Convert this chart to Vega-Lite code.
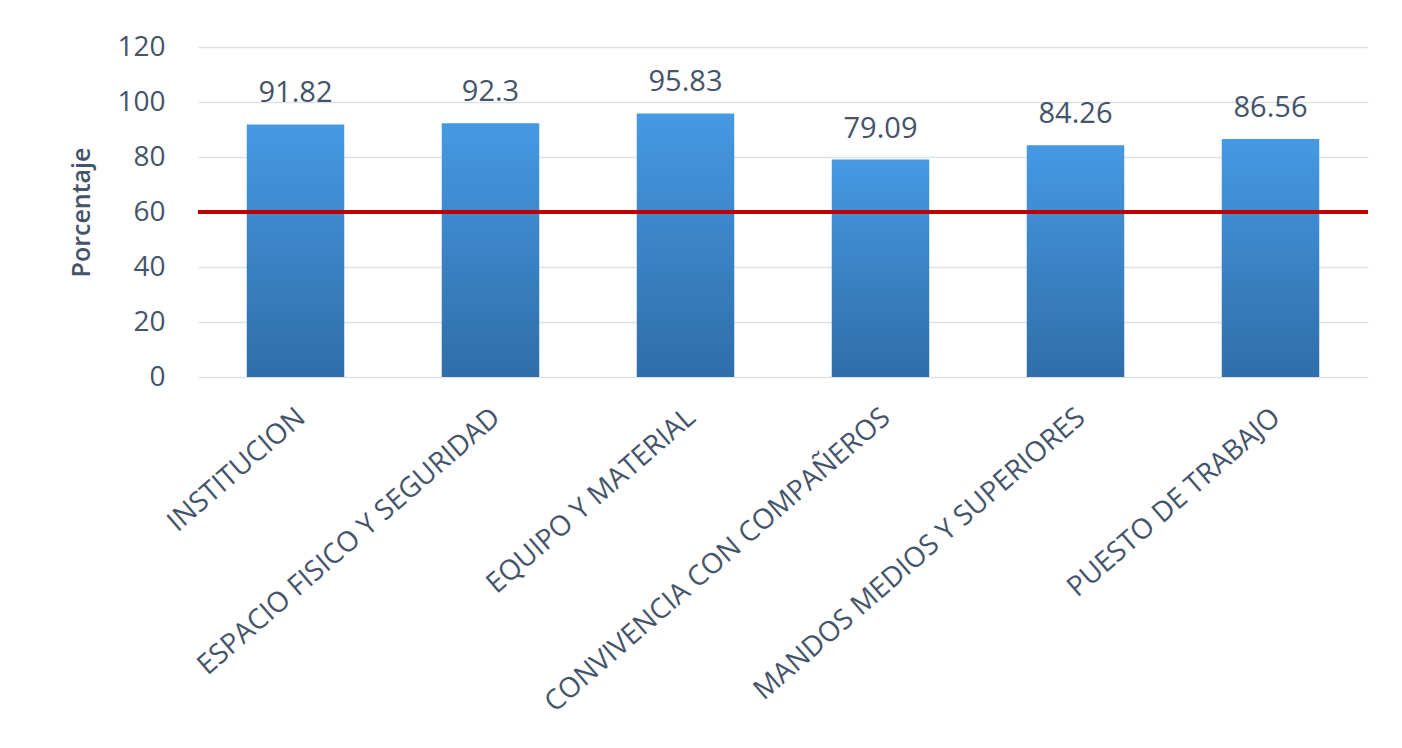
{
  "$schema": "https://vega.github.io/schema/vega-lite/v6.json",
  "width": 1170,
  "height": 330,
  "autosize": {"type": "none"},
  "padding": {"left": 198, "top": 47, "right": 34, "bottom": 371},
  "background": "white",
  "config": {
    "view": {"stroke": null},
    "font": "Open Sans"
  },
  "data": {
    "values": [
      {"categoria": "INSTITUCION", "porcentaje": 91.82},
      {"categoria": "ESPACIO FISICO Y SEGURIDAD", "porcentaje": 92.3},
      {"categoria": "EQUIPO Y MATERIAL", "porcentaje": 95.83},
      {"categoria": "CONVIVENCIA CON COMPAÑEROS", "porcentaje": 79.09},
      {"categoria": "MANDOS MEDIOS Y SUPERIORES", "porcentaje": 84.26},
      {"categoria": "PUESTO DE TRABAJO", "porcentaje": 86.56}
    ]
  },
  "encoding": {
    "x": {
      "field": "categoria",
      "type": "nominal",
      "sort": null,
      "scale": {"paddingInner": 0.5, "paddingOuter": 0.25},
      "axis": {
        "title": null,
        "domain": false,
        "ticks": false,
        "labelAngle": -41,
        "labelAlign": "right",
        "labelBaseline": "top",
        "labelPadding": 26,
        "labelOffset": -3,
        "labelFont": "Open Sans",
        "labelFontSize": 28,
        "labelColor": "#44546a",
        "labelLimit": 700
      }
    }
  },
  "layer": [
    {
      "mark": {
        "type": "bar",
        "color": {
          "gradient": "linear",
          "x1": 0, "y1": 0, "x2": 0, "y2": 1,
          "stops": [
            {"offset": 0, "color": "#4699e3"},
            {"offset": 1, "color": "#2f6ea9"}
          ]
        }
      },
      "encoding": {
        "y": {
          "field": "porcentaje",
          "type": "quantitative",
          "scale": {"domain": [0, 120], "nice": false},
          "axis": {
            "values": [0, 20, 40, 60, 80, 100, 120],
            "title": "Porcentaje",
            "titleFont": "Open Sans",
            "titleFontSize": 25,
            "titleFontWeight": 600,
            "titleColor": "#44546a",
            "titleAngle": -90,
            "titleAlign": "center",
            "titleBaseline": "middle",
            "titleX": -117,
            "titleY": 165,
            "domain": false,
            "ticks": false,
            "labelPadding": 33,
            "labelFont": "Open Sans",
            "labelFontSize": 28,
            "labelColor": "#44546a",
            "gridColor": "#dde2e8",
            "gridWidth": 1.5
          }
        }
      }
    },
    {
      "mark": {"type": "text", "baseline": "alphabetic", "dy": -22, "fontSize": 29, "font": "Open Sans", "color": "#44546a"},
      "encoding": {
        "y": {"field": "porcentaje", "type": "quantitative"},
        "text": {"field": "porcentaje", "type": "nominal"}
      }
    },
    {
      "data": {"values": [{"umbral": 60}]},
      "mark": {"type": "rule", "color": "#c00000", "strokeWidth": 4},
      "encoding": {
        "x": null,
        "y": {"field": "umbral", "type": "quantitative"}
      }
    }
  ]
}
